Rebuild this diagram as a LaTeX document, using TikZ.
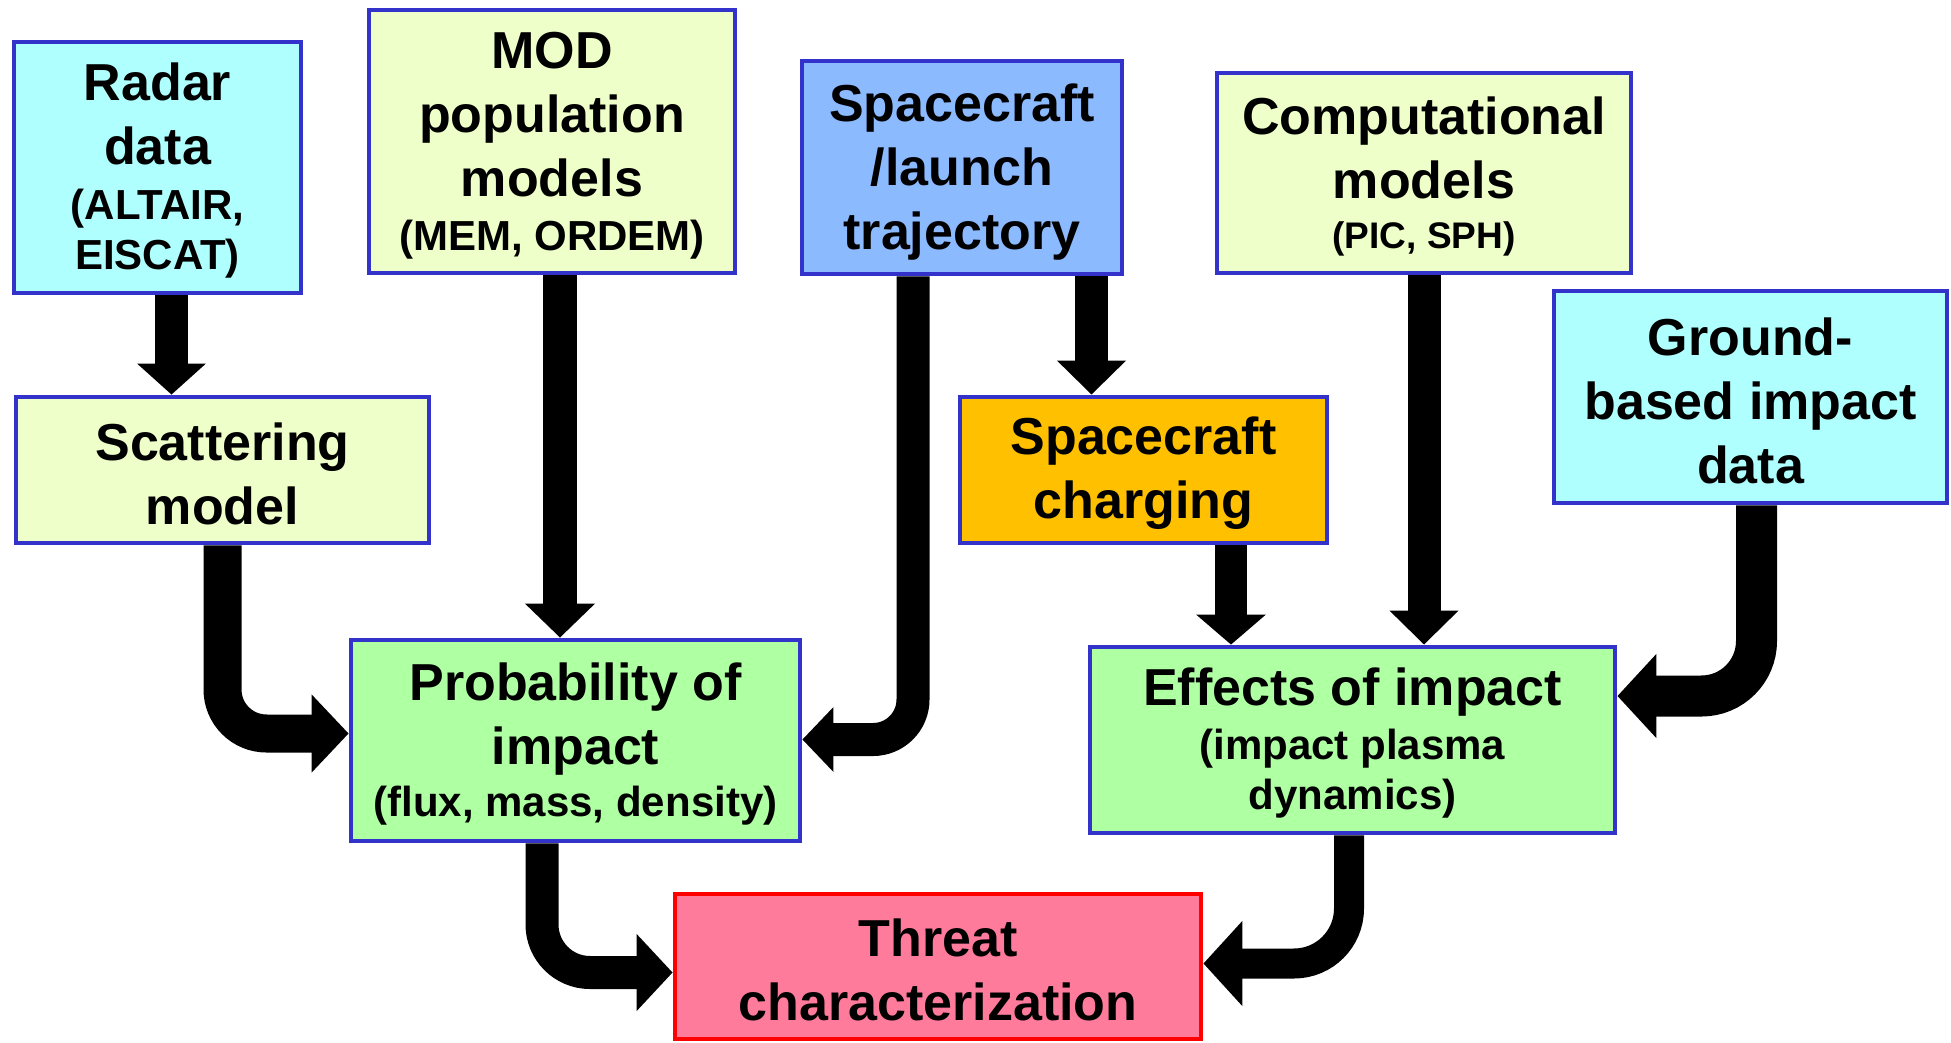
\documentclass[tikz,border=0pt]{standalone}
\usepackage{fontspec}
\setmainfont{Liberation Sans}
\usetikzlibrary{arrows.meta,backgrounds}
\definecolor{bordblue}{HTML}{3333CC}
\definecolor{cyanfill}{HTML}{AFFFFF}
\definecolor{yelfill}{HTML}{EFFFCA}
\definecolor{trajfill}{HTML}{8CBAFF}
\definecolor{orfill}{HTML}{FFC000}
\definecolor{grfill}{HTML}{AFFFA3}
\definecolor{pinkfill}{HTML}{FF7B9C}
\definecolor{redbord}{HTML}{FF0000}
\newcommand{\subt}[1]{{\fontsize{31.5}{37.5}\selectfont #1}}
\newcommand{\subs}[1]{{\fontsize{27.75}{33}\selectfont #1}}
\newcommand{\tp}{\rule{0pt}{33.5pt}}
\tikzset{
  box/.style={draw=bordblue, line width=3.6pt, align=center, inner sep=0pt,
    font=\fontsize{39}{48}\selectfont\bfseries},
  sz/.style 2 args={minimum width=#1*0.75pt, minimum height=#2*0.75pt},
  fat/.style={line width=#1*0.75pt, line cap=butt, draw=black},
}
\begin{document}
\begin{tikzpicture}[x=0.75pt,y=-0.75pt]
\useasboundingbox (0,0) rectangle (1951,1042);
\node[box, fill=cyanfill, sz={287}{251}] (radar) at (157.5,167.5)
  {\tp Radar\\data\\[-6.75pt]\subt{(ALTAIR,}\\[-10.5pt]\subt{EISCAT)}};
\node[box, fill=yelfill, sz={366}{263}] (mod) at (552,141.5)
  {\tp MOD\\population\\models\\[-7.5pt]\subt{(MEM, ORDEM)}};
\node[box, fill=trajfill, sz={320}{213}] (traj) at (962,167.5)
  {\rule{0pt}{34.5pt}Spacecraft\\/launch\\trajectory};
\node[box, fill=yelfill, sz={414}{200}] (comp) at (1424,173)
  {\tp Computational\\models\\[-10.5pt]\subs{(PIC, SPH)}};
\node[box, fill=cyanfill, sz={393}{212}] (ground) at (1750.5,397)
  {\tp Ground-\\based impact\\data};
\node[box, fill=yelfill, sz={413}{146}] (scat) at (222.5,470)
  {\tp Scattering\\model};
\node[box, fill=orfill, sz={367}{146}] (charg) at (1143.5,470)
  {\tp Spacecraft\\charging};
\node[box, fill=grfill, sz={449}{201}] (prob) at (575.5,740.5)
  {\tp Probability of\\impact\\[-9pt]\subt{(flux, mass, density)}};
\node[box, fill=grfill, sz={525}{186}] (eff) at (1352.5,740)
  {\tp Effects of impact\\[-7.5pt]\subt{(impact plasma}\\[-10.5pt]\subt{dynamics)}};
\node[box, draw=redbord, fill=pinkfill, sz={526}{145}] (threat) at (938,966.5)
  {\tp Threat\\characterization};
\begin{pgfonlayer}{background}
\draw[fat=33, -{Triangle[width=50.25pt,length=23.25pt]}]
  (radar.south -| 171.5,0) -- (scat.north -| 171.5,0);
\draw[fat=34, -{Triangle[width=51pt,length=25.5pt]}]
  (mod.south -| 560,0) -- (prob.north -| 560,0);
\draw[fat=33, -{Triangle[width=50.25pt,length=25.5pt]}]
  (traj.south -| 1091.5,0) -- (charg.north -| 1091.5,0);
\draw[fat=32, -{Triangle[width=51pt,length=22.5pt]}]
  (charg.south -| 1231,0) -- (eff.north -| 1231,0);
\draw[fat=33, -{Triangle[width=50.25pt,length=25.5pt]}]
  (comp.south -| 1424,0) -- (eff.north -| 1424,0);
\draw[fat=38, rounded corners=33pt, -{Triangle[width=57pt,length=27.75pt]}]
  (scat.south) |- (prob.west |- 0,733.5);
\draw[fat=33, rounded corners=30pt, -{Triangle[width=47.25pt,length=23.25pt]}]
  (traj.south -| 913,0) |- (prob.east |- 0,739.5);
\draw[fat=41, rounded corners=41.25pt, -{Triangle[width=61.5pt,length=29.25pt]}]
  (ground.south -| 1756.5,0) |- (eff.east |- 0,696);
\draw[fat=33, rounded corners=36pt, -{Triangle[width=56.25pt,length=27pt]}]
  (prob.south -| 542,0) |- (threat.west |- 0,972.5);
\draw[fat=30, rounded corners=41.25pt, -{Triangle[width=62.25pt,length=29.25pt]}]
  (eff.south -| 1349,0) |- (threat.east |- 0,963.5);
\end{pgfonlayer}
\end{tikzpicture}
\end{document}
